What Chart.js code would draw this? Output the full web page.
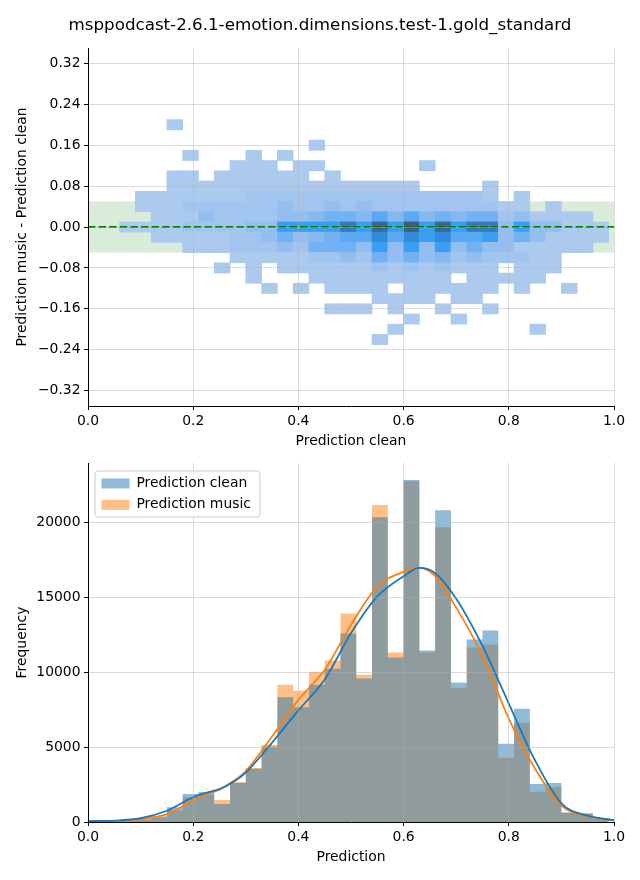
<!DOCTYPE html>
<html>
<head>
<meta charset="utf-8">
<script src="https://cdn.jsdelivr.net/npm/chart.js@4.4.0/dist/chart.umd.min.js"></script>
<style>
  html, body { margin: 0; padding: 0; background: #fff; }
  #wrap { position: relative; width: 640px; height: 880px; }
  canvas { position: absolute; left: 0; }
  #top { top: 0; }
  #bottom { top: 450px; }
</style>
</head>
<body>
<div id="wrap">
  <canvas id="top" width="640" height="450"></canvas>
  <canvas id="bottom" width="640" height="430"></canvas>
</div>
<script>
const title = 'msppodcast-2.6.1-emotion.dimensions.test-1.gold_standard';

// left edges of the prediction bins (both panels share them)
const binStart = [0.00, 0.03, 0.06, 0.09, 0.12, 0.15, 0.18, 0.21, 0.24, 0.27, 0.30,
  0.33, 0.36, 0.39, 0.42, 0.45, 0.48, 0.51, 0.54, 0.57, 0.60, 0.63, 0.66, 0.69, 0.72,
  0.75, 0.78, 0.81, 0.84, 0.87, 0.90, 0.93, 0.96];
const binWidth = 0.03;

// bottom panel: histogram counts per bin
const countClean = [40, 60, 100, 180, 380, 980, 1870, 2000, 1200, 2620, 3550, 5040,
  8320, 7650, 9160, 10230, 12580, 9570, 20330, 10970, 22810, 11440, 20800, 9300,
  12170, 12780, 5220, 7560, 2540, 2610, 640, 560, 220];
const countMusic = [40, 50, 80, 150, 300, 760, 1650, 1810, 1470, 2660, 3600, 5150,
  9160, 8760, 10030, 10770, 13910, 9830, 21140, 11300, 22740, 11300, 19670, 8960,
  11640, 11840, 4280, 6620, 2010, 2340, 620, 560, 200];

// kde curves
const kdeX = [0.00, 0.05, 0.10, 0.15, 0.20, 0.225, 0.25, 0.275, 0.30, 0.35, 0.40, 0.45,
  0.50, 0.55, 0.60, 0.63, 0.66, 0.70, 0.75, 0.80, 0.85, 0.90, 0.95, 1.00];
const kdeClean = [60, 90, 250, 750, 1650, 1950, 2200, 2650, 3300, 5300, 7450, 9500,
  12600, 15050, 16400, 16950, 16600, 14900, 11750, 7900, 4100, 1250, 420, 120];
const kdeMusic = [40, 60, 180, 520, 1450, 1850, 2150, 2700, 3400, 5700, 8150, 10150,
  13150, 15700, 16700, 16950, 16400, 14300, 11100, 6900, 3550, 1100, 370, 100];

// top panel: 2d histogram of (music - clean) vs clean
// each row: centre of the difference bin, first bin index, density level per bin
// ('.' = empty, 1..9 then a, b = densest)
const diffY = [0.20, 0.18, 0.16, 0.14, 0.12, 0.10, 0.08, 0.06, 0.04, 0.02, 0.00,
  -0.02, -0.04, -0.06, -0.08, -0.10, -0.12, -0.14, -0.16, -0.18, -0.20, -0.22];
const diffStart = [5, 0, 14, 6, 9, 5, 5, 3, 3, 4, 2, 4, 6, 9, 8, 10, 11, 18, 15, 20, 19, 18];
const diffLevels = [
  '1',
  '',
  '1',
  '1...1.1',
  '111.11......1',
  '11.111111.1',
  '1111111111111111....1',
  '11111112222222222222221.1',
  '1112222223223232222222211.1',
  '1113222233455464645455231111',
  '1111222233777797a7b7a7993733111',
  '11111223534566868786673531111',
  '11122232555373737353311111',
  '111112232535342322211',
  '1.1.11111121212111.111',
  '1...111111111.11111',
  '1.1.1111.111111.1..1',
  '1111.11',
  '111.1..1..1',
  '1..1',
  '1........1',
  '1'
];
const diffHeight = 0.02;
const bandLimits = [-0.05, 0.05];

const xTicks = [0, 0.2, 0.4, 0.6, 0.8, 1.0];
const diffTicks = [-0.32, -0.24, -0.16, -0.08, 0, 0.08, 0.16, 0.24, 0.32];
const freqTicks = [0, 5000, 10000, 15000, 20000];

const levelColors = {
  '1': '#abcaee', '2': '#a2c5ef', '3': '#95bef0', '4': '#86b8f1', '5': '#72b1f3',
  '6': '#5aa9f4', '7': '#3a9ff0', '8': '#2f8cda', '9': '#3978b2', 'a': '#3e6692', 'b': '#425b7e'
};

Chart.defaults.font.family = "'DejaVu Sans', sans-serif";
Chart.defaults.font.size = 13.9;
Chart.defaults.color = '#000';

const gridStyle = { color: 'rgba(176,176,176,0.45)', z: 1, tickColor: '#000', tickLength: 4, tickWidth: 1, offset: false };
const borderStyle = { display: true, color: '#000', width: 1, z: 2 };

function xAxis(label, height, titlePad) {
  return {
    type: 'linear', min: 0, max: 1, offset: false,
    grid: gridStyle, border: borderStyle,
    afterBuildTicks: s => { s.ticks = xTicks.map(v => ({ value: v })); },
    ticks: { padding: 3.5, maxRotation: 0, callback: v => v.toFixed(1) },
    title: { display: true, text: label, padding: { top: 0, bottom: titlePad } },
    afterFit: s => { s.height = height; }
  };
}

function yAxis(label, min, max, ticks, fmt) {
  return {
    type: 'linear', min: min, max: max,
    grid: gridStyle, border: borderStyle,
    afterBuildTicks: s => { s.ticks = ticks.map(v => ({ value: v })); },
    ticks: { padding: 3.5, callback: fmt },
    title: { display: true, text: label, padding: { top: 13.6, bottom: 0 } },
    afterFit: s => { s.width = 88; }
  };
}

// heatmap cells as floating bars
const cells = [], cellColors = [];
diffY.forEach((yc, r) => {
  const row = diffLevels[r];
  for (let i = 0; i < row.length; i++) {
    const lv = row[i];
    if (lv === '.') continue;
    const k = diffStart[r] + i;
    cells.push({ x: binStart[k] + binWidth / 2, y: [yc - diffHeight / 2, yc + diffHeight / 2] });
    cellColors.push(levelColors[lv]);
  }
});

// histogram outline: one step per bin, closed at the right edge of the last bin
function steps(counts) {
  const pts = binStart.map((x0, k) => ({ x: x0, y: counts[k] }));
  const last = binStart.length - 1;
  pts.push({ x: binStart[last] + binWidth, y: counts[last] });
  return pts;
}

// centre the figure title on the whole canvas, not on the padded area
const fullWidthTitle = {
  id: 'fullWidthTitle',
  afterLayout(chart) {
    const t = chart.titleBlock;
    if (t) { t.left = 0; t.right = chart.width; t.width = chart.width; }
  }
};

new Chart(document.getElementById('top'), {
  type: 'bar',
  data: {
    datasets: [
      {
        type: 'line', label: 'band',
        data: [{ x: 0, y: bandLimits[1] }, { x: 1, y: bandLimits[1] }],
        fill: { value: bandLimits[0] }, backgroundColor: 'rgba(0,128,0,0.15)',
        borderWidth: 0, pointRadius: 0, order: 2
      },
      {
        type: 'bar', label: 'hist2d', data: cells, backgroundColor: cellColors,
        borderWidth: 0, barPercentage: 1, categoryPercentage: 1, grouped: false, order: 1
      },
      {
        type: 'line', label: 'zero',
        data: [{ x: 0, y: 0 }, { x: 1, y: 0 }],
        borderColor: '#008000', borderWidth: 2, borderDash: [7.4, 3.2],
        pointRadius: 0, fill: false, order: 0
      }
    ]
  },
  options: {
    responsive: false, animation: false, events: [],
    layout: { padding: { left: 0, right: 26, top: 0, bottom: 0 } },
    plugins: {
      legend: { display: false },
      tooltip: { enabled: false },
      title: {
        display: true, text: title, color: '#000',
        font: { size: 16.7, weight: 'normal' },
        padding: { top: 16, bottom: 12 }
      }
    },
    scales: {
      x: xAxis('Prediction clean', 44, 0.65),
      y: yAxis('Prediction music - Prediction clean', -0.35, 0.35, diffTicks,
        v => (v < 0 ? '\u2212' : '') + Math.abs(v).toFixed(2))
    }
  },
  plugins: [fullWidthTitle]
});

// legend inside the plot with a matplotlib-like frame, drawn once on top of everything
const legendFrame = {
  id: 'legendFrame',
  beforeLayout(chart) {
    chart.legend._layers = () => [];
  },
  afterLayout(chart) {
    const lg = chart.legend, area = chart.chartArea;
    lg.left = area.left + 6; lg.top = area.top + 6;
    lg.right = lg.left + lg.width; lg.bottom = lg.top + lg.height;
  },
  afterDraw(chart) {
    const lg = chart.legend, ctx = chart.ctx, lab = lg.options.labels;
    ctx.save();
    ctx.font = "13.9px 'DejaVu Sans'";
    const tw = Math.max(...lg.legendItems.map(it => ctx.measureText(it.text).width));
    const x0 = lg.left + 1, y0 = lg.top + 2;
    const w = lab.padding + lab.boxWidth + 6.95 + tw + 8;
    ctx.beginPath();
    if (ctx.roundRect) ctx.roundRect(x0, y0, w, 46, 3); else ctx.rect(x0, y0, w, 46);
    ctx.fillStyle = 'rgba(255,255,255,0.8)';
    ctx.fill();
    ctx.strokeStyle = '#cccccc';
    ctx.lineWidth = 1;
    ctx.stroke();
    ctx.restore();
    lg.draw();
  }
};

new Chart(document.getElementById('bottom'), {
  type: 'line',
  data: {
    datasets: [
      {
        label: 'Prediction clean', data: steps(countClean), stepped: 'before',
        fill: 'origin', backgroundColor: 'rgba(31,119,180,0.5)',
        borderWidth: 0, pointRadius: 0, order: 2
      },
      {
        label: 'Prediction music', data: steps(countMusic), stepped: 'before',
        fill: 'origin', backgroundColor: 'rgba(255,127,14,0.5)',
        borderWidth: 0, pointRadius: 0, order: 3
      },
      {
        label: 'kde clean', kde: true,
        data: kdeX.map((x, i) => ({ x: x, y: kdeClean[i] })),
        borderColor: '#1f77b4', borderWidth: 1.8, pointRadius: 0,
        cubicInterpolationMode: 'monotone', fill: false, order: 0
      },
      {
        label: 'kde music', kde: true,
        data: kdeX.map((x, i) => ({ x: x, y: kdeMusic[i] })),
        borderColor: '#ff7f0e', borderWidth: 1.8, pointRadius: 0,
        cubicInterpolationMode: 'monotone', fill: false, order: 1
      }
    ]
  },
  options: {
    responsive: false, animation: false, events: [],
    layout: { padding: { left: 0, right: 26, top: 13, bottom: 0 } },
    plugins: {
      tooltip: { enabled: false },
      legend: {
        position: 'chartArea', align: 'start', fullSize: false,
        labels: {
          boxWidth: 28, boxHeight: 10, padding: 7.5, color: '#000',
          font: { size: 13.9 },
          filter: (item, data) => !data.datasets[item.datasetIndex].kde
        }
      }
    },
    scales: {
      x: xAxis('Prediction', 58, 14.65),
      y: yAxis('Frequency', 0, 23950, freqTicks, v => String(v))
    }
  },
  plugins: [legendFrame]
});
</script>
</body>
</html>
